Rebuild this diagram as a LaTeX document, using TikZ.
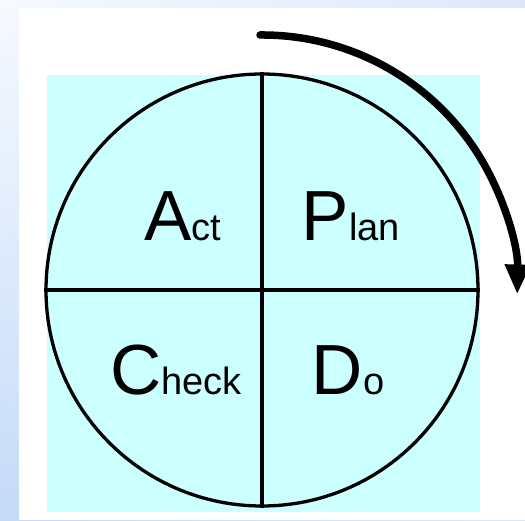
\documentclass[tikz,border=0pt]{standalone}
\usepackage{fontspec}
\setmainfont{Liberation Sans}
\usepackage{tikz}
\usetikzlibrary{arrows.meta, positioning, shadings}
\definecolor{pdcacyan}{RGB}{204,255,255}
\definecolor{bgpale}{RGB}{247,250,255}
\definecolor{bgblue}{RGB}{196,218,248}
\definecolor{bgmid}{RGB}{220,232,250}
\newcommand{\capletter}[1]{{\fontsize{71}{71}\selectfont #1}}
\newcommand{\restletters}[1]{{\fontsize{38}{38}\selectfont #1}}

\begin{document}
\begin{tikzpicture}[x=1pt, y=1pt,
    wheel/.style={circle, draw, line width=3.3pt, minimum size=432pt, inner sep=0pt},
    divider/.style={line width=3.3pt},
    stagelabel/.style={anchor=base, inner sep=0pt},
    turnarrow/.style={line width=7.5pt, line cap=round,
                      -{Triangle[length=30pt, width=24pt]}}]
    \useasboundingbox (0,0) rectangle (525,520);

    % Background
    \shade[upper left=bgpale, lower left=bgblue, upper right=bgmid, lower right=bgmid]
        (0,0) rectangle (525,520);
    \fill[white] (19,0) rectangle (525,512);
    \fill[pdcacyan] (47,8) rectangle (480,445);

    % Wheel and quadrants
    \node[wheel] (wheel) at (262,230) {};
    \draw[divider] (wheel.north) -- (wheel.south);
    \draw[divider] (wheel.west) -- (wheel.east);

    % Stage labels
    \node[stagelabel] (act) at (183,279) {\capletter{A}\restletters{ct}};
    \node[stagelabel] (plan) at (351,279) {\capletter{P}\restletters{lan}};
    \node[stagelabel] (check) at (176,125) {\capletter{C}\restletters{heck}};
    \node[stagelabel] (do) at (348,125) {\capletter{D}\restletters{o}};

    % Turning arrow
    \coordinate (turnstart) at (260,485);
    \draw[turnarrow] (turnstart) arc[start angle=90.5, end angle=-1, radius=255];

\end{tikzpicture}
\end{document}
